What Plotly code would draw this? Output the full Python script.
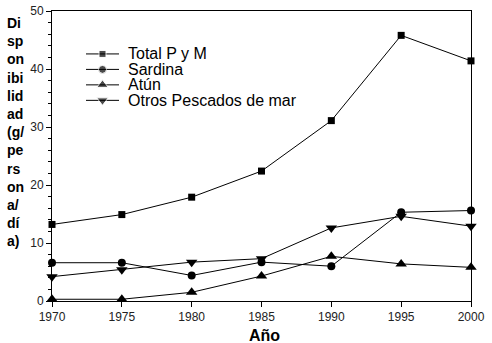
import plotly.graph_objects as go

# Disponibilidad de pescados y mariscos (g/persona/día)
years = [1970, 1975, 1980, 1985, 1990, 1995, 2000]
total_pym = [13.2, 14.9, 17.9, 22.4, 31.1, 45.8, 41.4]
sardina = [6.6, 6.6, 4.4, 6.7, 6.0, 15.3, 15.6]
atun = [0.3, 0.3, 1.5, 4.3, 7.7, 6.4, 5.8]
otros = [4.2, 5.4, 6.7, 7.3, 12.6, 14.6, 12.9]

series_names = ["Total P y M", "Sardina", "Atún", "Otros Pescados de mar"]
series_values = [total_pym, sardina, atun, otros]
symbols = ["square", "circle", "triangle-up", "triangle-down"]
sizes = [7, 8, 10, 10]

FONT = "Liberation Sans, Arial, sans-serif"
W, H = 492, 343
L, R, T, B = 52, 21, 10.5, 42

fig = go.Figure()
for name, vals, sym, size in zip(series_names, series_values, symbols, sizes):
    fig.add_trace(go.Scatter(
        x=years, y=vals, name=name, mode="lines+markers",
        line=dict(color="black", width=1),
        marker=dict(symbol=sym, size=size, color="black"),
        cliponaxis=False, showlegend=False,
    ))

# Compact legend on an overlay axis measured in page pixels
key_x0, key_x1, key_mid, text_x = 86, 119, 102.5, 126
row_y = [53.5, 69, 84.5, 100]
for name, sym, size, ry in zip(series_names, symbols, sizes, row_y):
    fig.add_trace(go.Scatter(
        x=[key_x0, key_mid, key_x1], y=[ry, ry, ry], xaxis="x2", yaxis="y2",
        mode="lines+markers", line=dict(color="black", width=1),
        marker=dict(symbol=sym, size=[0, size, 0], color="black"),
        showlegend=False, hoverinfo="skip",
    ))
    fig.add_annotation(
        text=name, xref="x2", yref="y2", x=text_x, y=ry,
        xanchor="left", yanchor="middle", showarrow=False,
        font=dict(family=FONT, size=16, color="black"),
    )

fig.update_layout(
    width=W, height=H,
    margin=dict(l=L, r=R, t=T, b=B, autoexpand=False),
    paper_bgcolor="white", plot_bgcolor="white",
    font=dict(family=FONT, size=12, color="black"),
    showlegend=False,
    xaxis=dict(
        range=[1970, 2000], tickvals=years, ticks="outside", ticklen=5,
        tickcolor="black", showline=True, linecolor="black", linewidth=1,
        mirror=True, showgrid=False, zeroline=False, automargin=False,
        tickfont=dict(family=FONT, size=12, color="#222"),
    ),
    yaxis=dict(
        range=[0, 50], dtick=10, ticks="outside", ticklen=5,
        tickcolor="black", showline=True, linecolor="black", linewidth=1,
        mirror=True, showgrid=False, zeroline=False, automargin=False,
        minor=dict(ticks="outside", dtick=2, ticklen=3, tickcolor="black"),
        tickfont=dict(family=FONT, size=12, color="#222"),
    ),
    xaxis2=dict(overlaying="x", range=[L, W - R], visible=False,
                fixedrange=True, anchor="y2"),
    yaxis2=dict(overlaying="y", range=[H - B, T], visible=False,
                fixedrange=True, anchor="x2"),
)

# Axis titles
fig.add_annotation(
    text="<b>Año</b>", xref="paper", yref="paper", x=0.506, y=0,
    yshift=-34, xanchor="center", yanchor="middle", showarrow=False,
    font=dict(family=FONT, size=16, color="black"),
)
fig.add_annotation(
    text="<b>Di<br>sp<br>on<br>ibi<br>lid<br>ad<br>(g/<br>pe<br>rs<br>on<br>a/<br>dí<br>a)</b>",
    xref="paper", yref="paper", x=0, y=1, xshift=-47, yshift=-2,
    xanchor="left", yanchor="top", align="left", showarrow=False,
    font=dict(family=FONT, size=14, color="black"),
)

fig.write_html("out.html")
